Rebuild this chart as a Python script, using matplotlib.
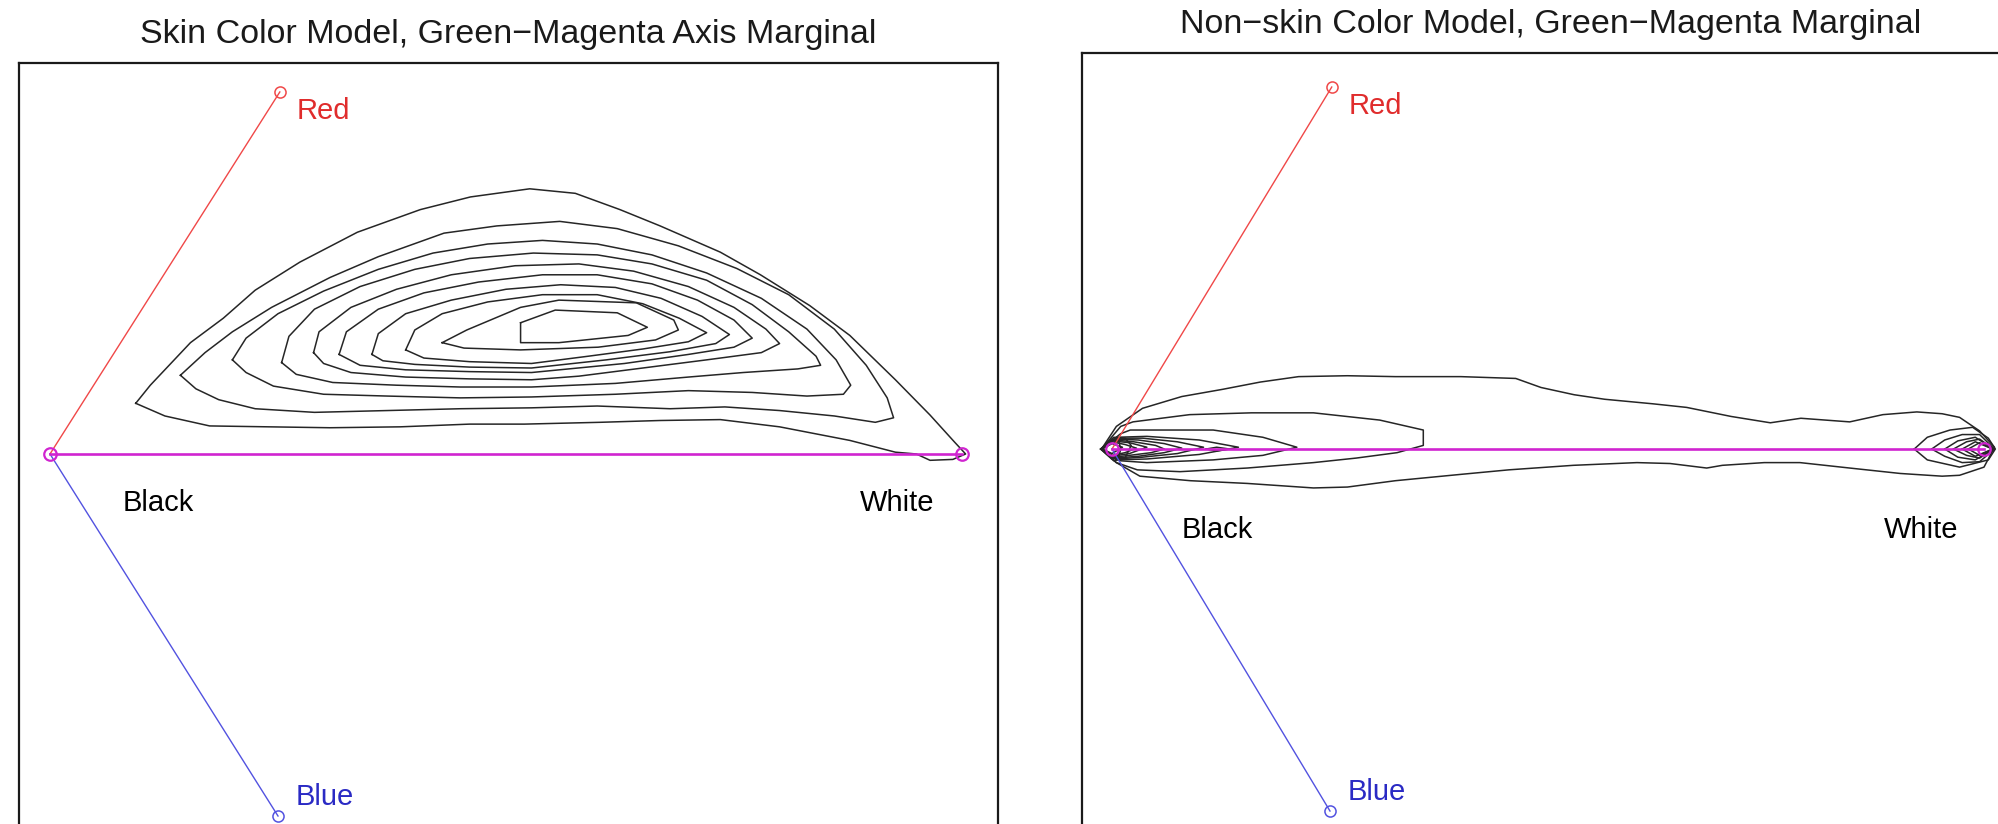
"""Green-magenta marginals of the skin and non-skin colour models.

Each panel projects the RGB cube along the green-magenta axis: the grey
axis runs from Black to White, with the red and blue corners above and
below it. Density contours of the marginal are drawn over that frame.
"""

import matplotlib

matplotlib.use("Agg")
import matplotlib.pyplot as plt

FIG_W, FIG_H, DPI = 1998, 824, 100

# projected cube corners, grey axis scaled so that white sits at 1
BLACK = (0.0, 0.0)
WHITE = (1.0, 0.0)
RED = (0.252, 0.400)
BLUE = (0.250, -0.400)

TITLES = [
    "Skin Color Model, Green\u2212Magenta Axis Marginal",
    "Non\u2212skin Color Model, Green\u2212Magenta Marginal",
]

# skin model contours, outermost level first
SKIN_RING_1 = [
    (0.094, 0.056), (0.110, 0.076), (0.154, 0.123), (0.190, 0.150), (0.225, 0.181),
    (0.274, 0.212), (0.337, 0.245), (0.406, 0.270), (0.461, 0.284), (0.526, 0.293),
    (0.576, 0.288), (0.625, 0.270), (0.669, 0.252), (0.735, 0.223), (0.779, 0.198),
    (0.833, 0.164), (0.877, 0.131), (0.927, 0.082), (0.965, 0.043), (0.992, 0.013),
    (1.004, 0.000), (0.990, -0.006), (0.965, -0.007), (0.950, 0.000), (0.927, 0.002),
    (0.877, 0.015), (0.800, 0.030), (0.735, 0.038), (0.669, 0.037), (0.603, 0.035),
    (0.520, 0.033), (0.460, 0.033), (0.384, 0.030), (0.307, 0.029), (0.240, 0.030),
    (0.175, 0.031), (0.126, 0.042), (0.094, 0.056),
]
SKIN_RING_2 = [
    (0.143, 0.087), (0.170, 0.112), (0.200, 0.135), (0.243, 0.162), (0.307, 0.195),
    (0.360, 0.218), (0.432, 0.244), (0.490, 0.252), (0.559, 0.257), (0.622, 0.249),
    (0.689, 0.230), (0.753, 0.205), (0.810, 0.176), (0.860, 0.138), (0.895, 0.098),
    (0.918, 0.062), (0.925, 0.040), (0.905, 0.035), (0.860, 0.042), (0.800, 0.048),
    (0.740, 0.052), (0.680, 0.050), (0.600, 0.053), (0.528, 0.051), (0.450, 0.050),
    (0.370, 0.048), (0.290, 0.046), (0.225, 0.050), (0.185, 0.060), (0.160, 0.072),
    (0.143, 0.087),
]
SKIN_RING_3 = [
    (0.200, 0.104), (0.215, 0.128), (0.250, 0.155), (0.300, 0.180), (0.360, 0.204),
    (0.420, 0.222), (0.480, 0.232), (0.540, 0.236), (0.600, 0.232), (0.660, 0.220),
    (0.720, 0.200), (0.780, 0.172), (0.830, 0.138), (0.862, 0.104), (0.878, 0.076),
    (0.870, 0.066), (0.830, 0.064), (0.770, 0.068), (0.700, 0.070), (0.620, 0.066),
    (0.528, 0.063), (0.450, 0.062), (0.370, 0.064), (0.300, 0.066), (0.245, 0.075),
    (0.215, 0.090), (0.200, 0.104),
]
SKIN_RING_4 = [
    (0.254, 0.101), (0.262, 0.130), (0.290, 0.160), (0.340, 0.185), (0.400, 0.204),
    (0.460, 0.216), (0.530, 0.222), (0.600, 0.220), (0.660, 0.210), (0.720, 0.192),
    (0.770, 0.165), (0.810, 0.135), (0.840, 0.108), (0.845, 0.098), (0.820, 0.094),
    (0.760, 0.090), (0.700, 0.085), (0.620, 0.078), (0.528, 0.074), (0.450, 0.074),
    (0.380, 0.076), (0.310, 0.079), (0.270, 0.088), (0.254, 0.101),
]
SKIN_RING_5 = [
    (0.289, 0.112), (0.295, 0.135), (0.330, 0.162), (0.380, 0.182), (0.440, 0.198),
    (0.510, 0.208), (0.580, 0.210), (0.640, 0.202), (0.700, 0.185), (0.750, 0.162),
    (0.785, 0.138), (0.800, 0.122), (0.780, 0.112), (0.720, 0.104), (0.650, 0.095),
    (0.580, 0.086), (0.528, 0.082), (0.460, 0.083), (0.390, 0.085), (0.330, 0.090),
    (0.300, 0.100), (0.289, 0.112),
]
SKIN_RING_6 = [
    (0.317, 0.110), (0.325, 0.135), (0.360, 0.160), (0.410, 0.178), (0.470, 0.190),
    (0.540, 0.198), (0.600, 0.198), (0.660, 0.188), (0.710, 0.170), (0.750, 0.148),
    (0.770, 0.128), (0.750, 0.118), (0.700, 0.110), (0.630, 0.100), (0.528, 0.090),
    (0.460, 0.091), (0.390, 0.093), (0.340, 0.098), (0.317, 0.110),
]
SKIN_RING_7 = [
    (0.353, 0.110), (0.360, 0.133), (0.390, 0.155), (0.440, 0.170), (0.500, 0.182),
    (0.560, 0.187), (0.620, 0.184), (0.670, 0.172), (0.715, 0.152), (0.745, 0.132),
    (0.730, 0.122), (0.680, 0.113), (0.610, 0.104), (0.528, 0.095), (0.460, 0.096),
    (0.400, 0.099), (0.365, 0.103), (0.353, 0.110),
]
SKIN_RING_8 = [
    (0.390, 0.115), (0.400, 0.137), (0.430, 0.155), (0.480, 0.168), (0.540, 0.176),
    (0.600, 0.176), (0.650, 0.166), (0.690, 0.150), (0.720, 0.134), (0.700, 0.124),
    (0.650, 0.116), (0.590, 0.108), (0.528, 0.100), (0.460, 0.102), (0.410, 0.106),
    (0.390, 0.115),
]
SKIN_RING_9 = [
    (0.430, 0.123), (0.457, 0.137), (0.516, 0.162), (0.558, 0.170), (0.643, 0.167),
    (0.684, 0.148), (0.689, 0.137), (0.664, 0.126), (0.601, 0.118), (0.516, 0.115),
    (0.454, 0.117), (0.430, 0.123),
]
SKIN_RING_10 = [
    (0.516, 0.145), (0.554, 0.159), (0.622, 0.156), (0.655, 0.140), (0.634, 0.131),
    (0.558, 0.123), (0.516, 0.123), (0.516, 0.145),
]

# non-skin model contours, outermost level first
NONSKIN_RING_1 = [
    (-0.012, 0.000), (0.005, 0.025), (0.035, 0.045), (0.080, 0.058), (0.127, 0.066),
    (0.170, 0.074), (0.214, 0.080), (0.270, 0.081), (0.325, 0.080), (0.400, 0.080),
    (0.463, 0.078), (0.492, 0.068), (0.530, 0.060), (0.565, 0.055), (0.620, 0.050),
    (0.659, 0.046), (0.710, 0.036), (0.755, 0.029), (0.790, 0.034), (0.846, 0.030),
    (0.884, 0.038), (0.923, 0.041), (0.952, 0.039), (0.972, 0.035), (0.995, 0.020),
    (1.012, 0.002), (1.000, -0.020), (0.972, -0.029), (0.952, -0.030), (0.904, -0.027),
    (0.846, -0.021), (0.789, -0.015), (0.748, -0.015), (0.700, -0.018), (0.682, -0.021),
    (0.640, -0.016), (0.602, -0.015), (0.529, -0.018), (0.455, -0.023), (0.400, -0.028),
    (0.325, -0.035), (0.270, -0.042), (0.231, -0.043), (0.155, -0.038), (0.090, -0.035),
    (0.032, -0.030), (0.005, -0.015), (-0.012, 0.000),
]
NONSKIN_RING_2 = [
    (-0.012, 0.000), (0.010, 0.025), (0.024, 0.030), (0.089, 0.038), (0.160, 0.040),
    (0.231, 0.040), (0.307, 0.032), (0.357, 0.021), (0.357, 0.004), (0.327, -0.004),
    (0.280, -0.010), (0.231, -0.015), (0.155, -0.021), (0.078, -0.025), (0.029, -0.023),
    (0.005, -0.015), (-0.012, 0.000),
]
NONSKIN_RING_3 = [
    (-0.012, 0.000), (0.010, 0.017), (0.021, 0.021), (0.116, 0.021), (0.173, 0.013),
    (0.212, 0.002), (0.173, -0.007), (0.116, -0.012), (0.040, -0.015), (0.010, -0.013),
    (-0.012, 0.000),
]
NONSKIN_RING_4 = [
    (-0.012, 0.000), (0.005, 0.013), (0.040, 0.014), (0.100, 0.010), (0.145, 0.002),
    (0.100, -0.006), (0.040, -0.011), (0.005, -0.012), (-0.012, 0.000),
]
NONSKIN_RING_5 = [
    (-0.012, 0.000), (0.004, 0.012), (0.035, 0.012), (0.075, 0.008), (0.105, 0.002),
    (0.075, -0.005), (0.035, -0.009), (0.004, -0.011), (-0.012, 0.000),
]
NONSKIN_RING_6 = [
    (-0.012, 0.000), (0.003, 0.011), (0.030, 0.010), (0.060, 0.006), (0.080, 0.001),
    (0.060, -0.004), (0.030, -0.008), (0.003, -0.010), (-0.012, 0.000),
]
NONSKIN_RING_7 = [
    (-0.012, 0.000), (0.002, 0.010), (0.025, 0.008), (0.050, 0.004), (0.060, 0.000),
    (0.045, -0.004), (0.020, -0.007), (0.002, -0.009), (-0.012, 0.000),
]
NONSKIN_RING_8 = [
    (-0.012, 0.000), (0.000, 0.009), (0.020, 0.007), (0.040, 0.002), (0.020, -0.005),
    (0.000, -0.008), (-0.012, 0.000),
]
NONSKIN_RING_9 = [
    (-0.012, 0.000), (0.000, 0.008), (0.015, 0.005), (0.028, 0.001), (0.015, -0.004),
    (0.000, -0.007), (-0.012, 0.000),
]
NONSKIN_RING_10 = [
    (-0.011, 0.000), (0.000, 0.006), (0.012, 0.002), (0.000, -0.005), (-0.011, 0.000),
]
NONSKIN_RING_11 = [
    (-0.013, 0.000), (0.002, 0.013), (0.015, 0.012), (0.022, 0.004), (0.015, -0.010),
    (0.002, -0.013), (-0.013, 0.000),
]
NONSKIN_RING_12 = [
    (-0.013, 0.000), (0.000, 0.011), (0.008, 0.008), (0.010, 0.000), (0.008, -0.008),
    (0.000, -0.011), (-0.013, 0.000),
]
NONSKIN_ISLAND = [
    (0.108, 0.000), (0.120, 0.002), (0.135, 0.000), (0.120, -0.002), (0.108, 0.000),
]
NONSKIN_WHITE_1 = [
    (0.920, 0.000), (0.935, 0.013), (0.961, 0.021), (0.987, 0.024), (1.005, 0.012),
    (1.013, 0.000), (1.005, -0.012), (0.972, -0.020), (0.935, -0.012), (0.920, 0.000),
]
NONSKIN_WHITE_2 = [
    (0.940, 0.000), (0.955, 0.010), (0.975, 0.016), (0.995, 0.016), (1.012, 0.000),
    (0.995, -0.014), (0.975, -0.015), (0.955, -0.008), (0.940, 0.000),
]
NONSKIN_WHITE_3 = [
    (0.955, 0.000), (0.970, 0.009), (0.990, 0.013), (1.011, 0.000), (0.990, -0.012),
    (0.970, -0.009), (0.955, 0.000),
]
NONSKIN_WHITE_4 = [
    (0.965, 0.000), (0.980, 0.008), (0.995, 0.011), (1.011, 0.000), (0.995, -0.010),
    (0.980, -0.007), (0.965, 0.000),
]
NONSKIN_WHITE_5 = [
    (0.975, 0.000), (0.990, 0.008), (1.010, 0.000), (0.990, -0.008), (0.975, 0.000),
]
NONSKIN_WHITE_6 = [
    (0.982, 0.000), (0.995, 0.007), (1.010, 0.000), (0.995, -0.007), (0.982, 0.000),
]

SKIN_RINGS = [
    SKIN_RING_1, SKIN_RING_2, SKIN_RING_3, SKIN_RING_4, SKIN_RING_5,
    SKIN_RING_6, SKIN_RING_7, SKIN_RING_8, SKIN_RING_9, SKIN_RING_10,
]
NONSKIN_RINGS = [
    NONSKIN_RING_1, NONSKIN_RING_2, NONSKIN_RING_3, NONSKIN_RING_4, NONSKIN_RING_5,
    NONSKIN_RING_6, NONSKIN_RING_7, NONSKIN_RING_8, NONSKIN_RING_9, NONSKIN_RING_10,
    NONSKIN_RING_11, NONSKIN_RING_12, NONSKIN_ISLAND,
    NONSKIN_WHITE_1, NONSKIN_WHITE_2, NONSKIN_WHITE_3,
    NONSKIN_WHITE_4, NONSKIN_WHITE_5, NONSKIN_WHITE_6,
]

RED_LINE, RED_TEXT = "#f04848", "#e02c2c"
BLUE_LINE, BLUE_TEXT = "#5252e0", "#2a2ac4"
MAGENTA = "#d024d0"
CONTOUR = "#262626"
LABEL_SIZE = 21
TITLE_SIZE = 24.5


def pixel_box(left, top, right, bottom):
    """Figure-fraction rectangle from pixel edges (y measured from the top)."""
    return [left / FIG_W, 1 - bottom / FIG_H, (right - left) / FIG_W, (bottom - top) / FIG_H]


def draw_panel(ax, title, rings, grey_offsets):
    """Draw the projected colour axes, labels and density contours."""
    for ring in rings:
        xs = [p[0] for p in ring]
        ys = [p[1] for p in ring]
        ax.plot(xs, ys, color=CONTOUR, lw=1.1, zorder=2, solid_joinstyle="round")

    marker = dict(marker="o", markersize=8, markerfacecolor="none", markeredgewidth=1.1)
    ax.plot([BLACK[0], RED[0]], [BLACK[1], RED[1]], color=RED_LINE, lw=1.0, zorder=3)
    ax.plot([RED[0]], [RED[1]], color=RED_LINE, zorder=3, **marker)
    ax.plot([BLACK[0], BLUE[0]], [BLACK[1], BLUE[1]], color=BLUE_LINE, lw=1.0, zorder=3)
    ax.plot([BLUE[0]], [BLUE[1]], color=BLUE_LINE, zorder=3, **marker)
    ax.plot([BLACK[0], WHITE[0]], [BLACK[1], WHITE[1]], color=MAGENTA, lw=1.9, zorder=4)
    ax.plot([BLACK[0], WHITE[0]], [BLACK[1], WHITE[1]], color=MAGENTA, lw=0,
            zorder=4, marker="o", markersize=9, markerfacecolor="none",
            markeredgewidth=1.6)

    ax.annotate("Red", RED, xytext=(12, -14), textcoords="offset points",
                color=RED_TEXT, fontsize=LABEL_SIZE, ha="left", va="center")
    ax.annotate("Blue", BLUE, xytext=(13, 14), textcoords="offset points",
                color=BLUE_TEXT, fontsize=LABEL_SIZE, ha="left", va="center")
    (bx, by), (wx, wy) = grey_offsets
    ax.annotate("Black", BLACK, xytext=(bx, by), textcoords="offset points",
                color="black", fontsize=LABEL_SIZE, ha="center", va="center")
    ax.annotate("White", WHITE, xytext=(wx, wy), textcoords="offset points",
                color="black", fontsize=LABEL_SIZE, ha="center", va="center")

    ax.set_title(title, fontsize=TITLE_SIZE, pad=14.4, color="#1a1a1a")
    ax.set_xticks([])
    ax.set_yticks([])
    for spine in ax.spines.values():
        spine.set_linewidth(1.6)
        spine.set_color("#1a1a1a")


def main():
    plt.rcParams["font.family"] = ["Liberation Sans", "DejaVu Sans"]
    fig = plt.figure(figsize=(FIG_W / DPI, FIG_H / DPI), dpi=DPI)

    skin_ax = fig.add_axes(pixel_box(19, 63, 998, 880))
    skin_ax.set_xlim(-0.0340, 1.0395)
    skin_ax.set_ylim(-0.4707, 0.4320)
    draw_panel(skin_ax, TITLES[0], SKIN_RINGS, ((78, -35), (-47, -35)))

    nonskin_ax = fig.add_axes(pixel_box(1082, 53, 2020, 880))
    nonskin_ax.set_xlim(-0.0344, 1.0413)
    nonskin_ax.set_ylim(-0.4762, 0.4376)
    draw_panel(nonskin_ax, TITLES[1], NONSKIN_RINGS, ((76, -58), (-45, -58)))

    fig.savefig("out.png", dpi=DPI)


if __name__ == "__main__":
    main()
